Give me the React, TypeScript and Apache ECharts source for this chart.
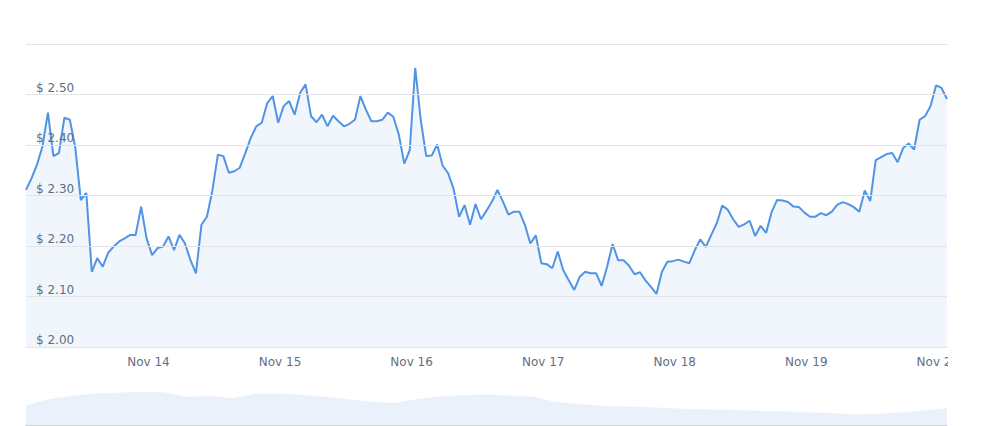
import React, { useEffect, useRef } from "react";
import * as echarts from "echarts";

// Main series: hourly prices starting Nov 13 01:40 (local time)
const START = new Date(2023, 10, 13, 1, 40).getTime();
const HOUR = 3600 * 1000;

const prices: number[] = [
  2.311, 2.334, 2.361, 2.397, 2.464, 2.378, 2.384, 2.454, 2.45, 2.394,
  2.291, 2.305, 2.149, 2.176, 2.159, 2.187, 2.199, 2.209, 2.215, 2.222,
  2.222, 2.278, 2.215, 2.182, 2.196, 2.199, 2.219, 2.192, 2.222, 2.205,
  2.172, 2.146, 2.242, 2.258, 2.31, 2.381, 2.378, 2.345, 2.348, 2.355,
  2.384, 2.414, 2.437, 2.444, 2.483, 2.497, 2.444, 2.477, 2.487, 2.46,
  2.503, 2.52, 2.457, 2.445, 2.46, 2.437, 2.458, 2.447, 2.437, 2.442,
  2.45, 2.497, 2.47, 2.447, 2.447, 2.45, 2.464, 2.456, 2.421, 2.363,
  2.39, 2.553, 2.45, 2.378, 2.379, 2.401, 2.359, 2.344, 2.313, 2.258,
  2.281, 2.242, 2.283, 2.253, 2.27, 2.288, 2.311, 2.288, 2.262, 2.268,
  2.268, 2.242, 2.205, 2.221, 2.166, 2.164, 2.156, 2.189, 2.152, 2.132,
  2.113, 2.139, 2.149, 2.146, 2.146, 2.121, 2.159, 2.204, 2.172, 2.172,
  2.161, 2.144, 2.148, 2.132, 2.119, 2.105, 2.149, 2.169, 2.17, 2.173,
  2.169, 2.166, 2.192, 2.213, 2.198, 2.222, 2.245, 2.28, 2.272, 2.253,
  2.238, 2.243, 2.25, 2.22, 2.24, 2.226, 2.267, 2.291, 2.29, 2.287,
  2.278, 2.277, 2.266, 2.258, 2.258, 2.265, 2.261, 2.268, 2.282, 2.287,
  2.283, 2.277, 2.268, 2.31, 2.289, 2.37, 2.376, 2.382, 2.384, 2.366,
  2.394, 2.403, 2.391, 2.45, 2.457, 2.477, 2.518, 2.513, 2.491,
];

// Overview (scrollbar) series, evenly spaced samples
const overview: number[] = [
  1.975, 2.3, 2.45, 2.575, 2.61, 2.665, 2.64, 2.41, 2.45, 2.335,
  2.575, 2.575, 2.5, 2.415, 2.28, 2.18, 2.1, 2.3, 2.435, 2.49,
  2.525, 2.475, 2.425, 2.15, 2.05, 1.965, 1.93, 1.9, 1.84, 1.785,
  1.77, 1.75, 1.705, 1.67, 1.635, 1.6, 1.54, 1.56, 1.625, 1.72, 1.835,
];

const Y_MIN = 2.0;
const Y_MAX = 2.6;
const Y_STEP = 0.1;
const MONTHS = ["Jan", "Feb", "Mar", "Apr", "May", "Jun", "Jul", "Aug", "Sep", "Oct", "Nov", "Dec"];

const LINE = "#5194e3";
const LABEL = "#5f6e85";
const FONT = "DejaVu Sans, Verdana, sans-serif";

export default function App() {
  const ref = useRef<HTMLDivElement>(null);

  useEffect(() => {
    if (!ref.current) return;
    const chart = echarts.init(ref.current, undefined, { renderer: "svg" });
    const seriesData = prices.map((v, i) => [START + i * HOUR, v]);
    const overviewData = overview.map((v, i) => [i, v]);
    chart.setOption({
      animation: false,
      backgroundColor: "#ffffff",
      textStyle: { fontFamily: FONT },
      grid: [
        { left: 26, top: 44, width: 921, height: 303 },
        { left: 26, top: 385, width: 921, height: 40 },
      ],
      xAxis: [
        {
          type: "time",
          gridIndex: 0,
          min: START,
          max: START + (prices.length - 1) * HOUR,
          minInterval: 24 * HOUR,
          maxInterval: 24 * HOUR,
          axisLine: { show: true, lineStyle: { color: "#d6dbe3" } },
          axisTick: { show: false },
          splitLine: { show: false },
          axisLabel: {
            color: LABEL,
            fontSize: 12,
            fontFamily: FONT,
            margin: 9,
            showMinLabel: false,
            formatter: (val: number) => {
              const d = new Date(val);
              return `${MONTHS[d.getMonth()]} ${d.getDate()}`;
            },
          },
        },
        {
          type: "value",
          gridIndex: 1,
          min: 0,
          max: overview.length - 1,
          axisLine: { show: true, lineStyle: { color: "#cfd3d8" } },
          axisTick: { show: false },
          axisLabel: { show: false },
          splitLine: { show: false },
        },
      ],
      yAxis: [
        {
          type: "value",
          gridIndex: 0,
          min: Y_MIN,
          max: Y_MAX,
          interval: Y_STEP,
          axisLine: { show: false },
          axisTick: { show: false },
          splitLine: { show: true, lineStyle: { color: "#e3e5e8", width: 1 } },
          axisLabel: {
            inside: true,
            margin: 10,
            color: LABEL,
            fontSize: 12,
            fontFamily: FONT,
            verticalAlign: "bottom",
            lineHeight: 14,
            showMaxLabel: false,
            formatter: (v: number) => (v >= Y_MAX - 1e-9 ? "" : `$ ${v.toFixed(2)}`),
          },
          z: 3,
        },
        {
          type: "value",
          gridIndex: 1,
          min: 1.0,
          max: 3.0,
          show: false,
        },
      ],
      series: [
        {
          type: "line",
          xAxisIndex: 0,
          yAxisIndex: 0,
          data: seriesData,
          showSymbol: false,
          lineStyle: { color: LINE, width: 2 },
          areaStyle: { color: "rgba(81,148,227,0.12)", origin: "start" },
          z: 2,
        },
        {
          type: "line",
          xAxisIndex: 1,
          yAxisIndex: 1,
          data: overviewData,
          showSymbol: false,
          lineStyle: { width: 0, color: "#ebf1fb" },
          areaStyle: { color: "#ebf1fb", opacity: 1, origin: "start" },
        },
      ],
      graphic: [
        {
          type: "rect",
          left: 948,
          top: 350,
          shape: { width: 40, height: 26 },
          style: { fill: "#ffffff" },
          z: 100,
        },
      ],
    });
    return () => chart.dispose();
  }, []);

  return (
    <div
      ref={ref}
      style={{ position: "fixed", left: 0, top: 0, width: 981, height: 426 }}
    />
  );
}
